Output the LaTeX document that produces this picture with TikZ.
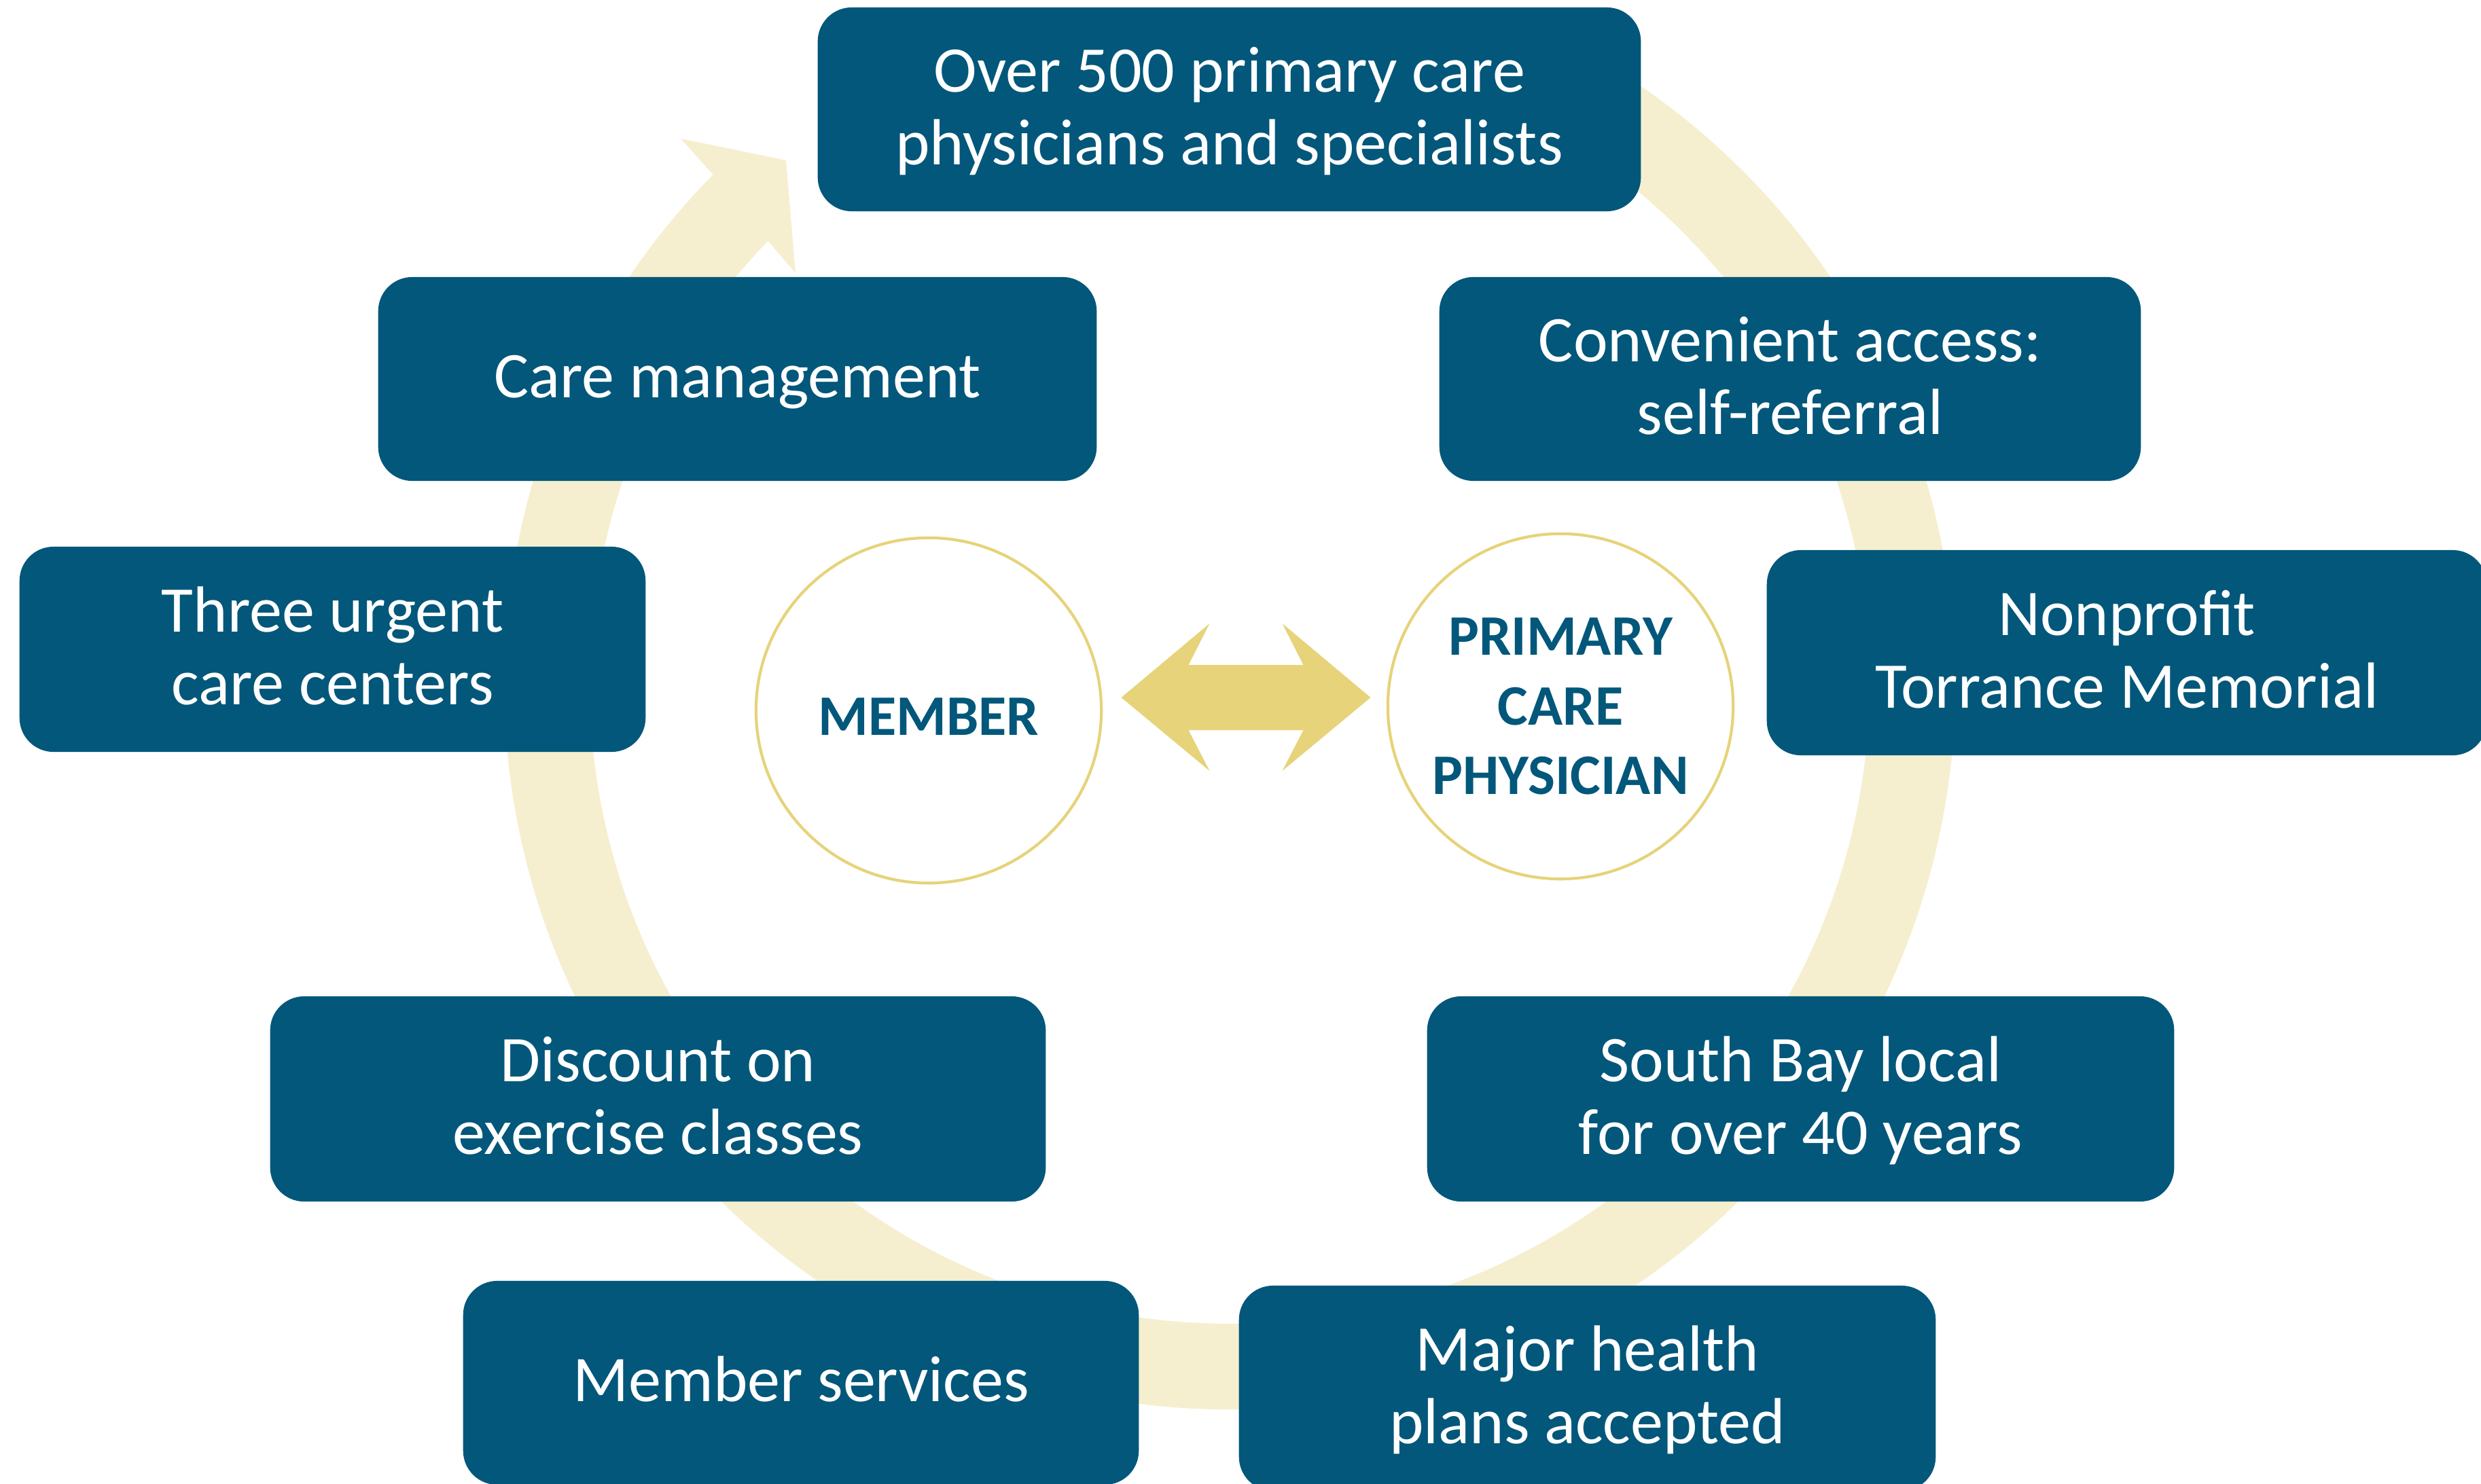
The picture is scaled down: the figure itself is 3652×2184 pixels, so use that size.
\documentclass[tikz,border=0pt]{standalone}
\usepackage{fontspec}
\setmainfont{Carlito}
\usetikzlibrary{calc}
\definecolor{boxblue}{HTML}{02577A}
\definecolor{gold}{HTML}{E6D37A}
\definecolor{ringc}{HTML}{F5EFCF}
\newcommand\bxs{\rule[-7.2pt]{0pt}{30.3pt}}
\newcommand\pcs{\rule[-6.9pt]{0pt}{29.2pt}}
\newcommand\mbs{\rule[-2pt]{0pt}{25pt}}
\begin{document}
\begin{tikzpicture}[x=0.01cm, y=-0.01cm,
  box/.style={fill=boxblue, rounded corners=0.5cm, text=white, align=center,
    inner sep=0pt, minimum height=3cm, font=\fontsize{27.3}{30.3}\selectfont},
  circ/.style={draw=gold, line width=1.2pt, circle, minimum size=5.08cm,
    inner sep=0pt, text=boxblue, align=center,
    font=\bfseries\fontsize{24}{29.2}\selectfont},
  ringfill/.style={fill=ringc},
  dblarrow/.style={fill=gold}]
\useasboundingbox (0,0) rectangle (3652,2184);
\clip (0,0) rectangle (3652,2184);

% circular arrow behind everything
\coordinate (rc) at (1810,1007);
\fill[ringfill] ($(rc)+(295:1068)$) arc[start angle=295, end angle=584.6, radius=1068]
  -- (1002,204) -- (1157,236) -- (1171,402) -- (1128,352)
  -- ($(rc)+(583.8:942)$) arc[start angle=583.8, end angle=295, radius=942] -- cycle;

% boxes
\node[box, minimum width=12.11cm] (top) at (1809.5,161) {\bxs Over 500 primary care\\\bxs physicians and specialists};
\node[box, minimum width=10.57cm] (care) at (1085.5,558) {\bxs Care management};
\node[box, minimum width=10.32cm] (conv) at (2635,558) {\bxs Convenient access:\\\bxs self-referral};
\node[box, minimum width=9.21cm, minimum height=3.02cm] (urgent) at (489.5,956) {\bxs Three urgent\\\bxs care centers};
\node[box, minimum width=10.59cm, minimum height=3.02cm] (nonprofit) at (3130.5,961) {\bxs Nonprofit\\\bxs Torrance Memorial};
\node[box, minimum width=11.41cm, minimum height=3.02cm] (discount) at (968.5,1618) {\bxs Discount on\\\bxs exercise classes};
\node[box, minimum width=10.99cm, minimum height=3.02cm] (southbay) at (2650.5,1618) {\bxs South Bay local\\\bxs for over 40 years};
\node[box, minimum width=9.94cm] (msvc) at (1179,2036) {\bxs Member services};
\node[box, minimum width=10.25cm, minimum height=3.02cm] (plans) at (2336.5,2044) {\bxs Major health\\\bxs plans accepted};

% circles
\node[circ] (member) at (1367,1046) {\mbs MEMBER};
\node[circ] (pcp) at (2297,1040) {\pcs PRIMARY\\\pcs CARE\\\pcs PHYSICIAN};

% double arrow between the circles
\coordinate (am) at ($(member.east)!0.5!(pcp.west)+(2,-16)$);
\fill[dblarrow] ($(am)+(-183.5,0)$) -- ($(am)+(-53.5,-109)$) -- ($(am)+(-84.5,-48)$)
  -- ($(am)+(84.5,-48)$) -- ($(am)+(53.5,-109)$) -- ($(am)+(183.5,0)$)
  -- ($(am)+(53.5,108)$) -- ($(am)+(84.5,48)$) -- ($(am)+(-84.5,48)$)
  -- ($(am)+(-53.5,108)$) -- cycle;
\end{tikzpicture}
\end{document}
